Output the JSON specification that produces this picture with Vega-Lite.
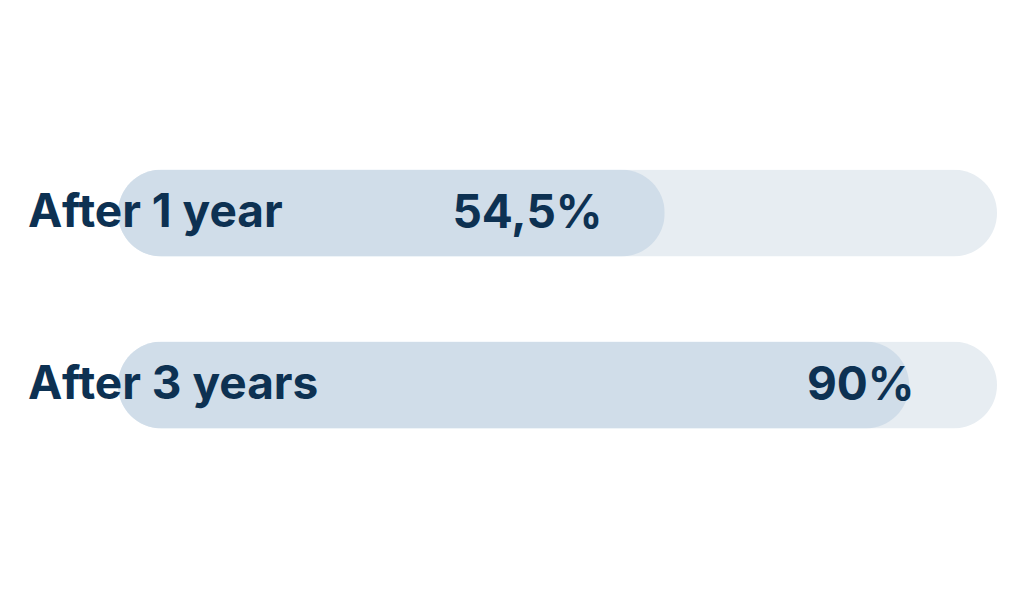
{
  "$schema": "https://vega.github.io/schema/vega-lite/v6.json",
  "width": 879,
  "height": 344,
  "autosize": {"type": "none"},
  "padding": {"left": 118, "top": 127, "right": 27, "bottom": 129},
  "background": "white",
  "config": {"view": {"stroke": null}},
  "data": {
    "values": [
      {"period": "After 1 year", "bar": 62.2, "pct": 54.5, "label": "54,5%", "full": 100},
      {"period": "After 3 years", "bar": 90, "pct": 90, "label": "90%", "full": 100}
    ]
  },
  "encoding": {
    "y": {
      "field": "period",
      "type": "nominal",
      "sort": null,
      "axis": null,
      "scale": {"paddingInner": 0.494, "paddingOuter": 0.247}
    }
  },
  "layer": [
    {
      "mark": {"type": "bar", "color": "#e7edf2", "cornerRadius": 43.5},
      "encoding": {
        "x": {"field": "full", "type": "quantitative", "axis": null, "scale": {"domain": [0, 100]}}
      }
    },
    {
      "mark": {"type": "bar", "color": "#d0dde9", "cornerRadius": 43.5},
      "encoding": {
        "x": {"field": "bar", "type": "quantitative"}
      }
    },
    {
      "mark": {"type": "text", "align": "left", "baseline": "middle", "dx": -90, "dy": 0, "font": "Inter", "fontWeight": 700, "fontSize": 46, "color": "#0d3152"},
      "encoding": {
        "x": {"datum": 0, "type": "quantitative"},
        "text": {"field": "period"}
      }
    },
    {
      "mark": {"type": "text", "align": "right", "baseline": "middle", "dx": 5.5, "dy": 1, "font": "Inter", "fontWeight": 700, "fontSize": 46, "color": "#0d3152"},
      "encoding": {
        "x": {"field": "pct", "type": "quantitative"},
        "text": {"field": "label"}
      }
    }
  ]
}
